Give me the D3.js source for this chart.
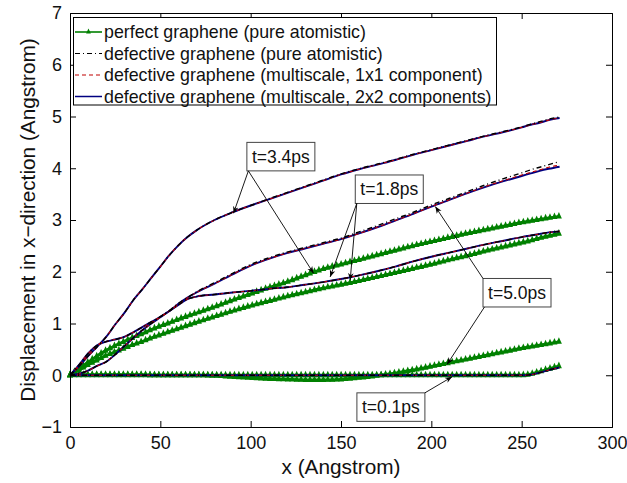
<!DOCTYPE html>
<html>
<head>
<meta charset="utf-8">
<script src="https://cdnjs.cloudflare.com/ajax/libs/d3/7.8.5/d3.min.js"></script>
<style>
  body { margin: 0; background: #fff; }
  svg { display: block; font-family: "Liberation Sans", Arial, Helvetica, sans-serif; }
</style>
</head>
<body>
<svg id="chart" width="627" height="483"></svg>
<script>
// sample positions along the sheet (Angstrom)
const xGrid = [0, 5, 10, 15, 20, 25, 30, 35, 40, 45, 50, 55, 60, 65, 70, 80, 90, 100, 110, 120,
  130, 140, 150, 160, 170, 180, 190, 200, 210, 220, 230, 240, 250, 255, 260, 265, 271];

// perfect graphene (pure atomistic)
const perfectT01 = [0, 0, 0, 0, 0, 0, 0, 0, 0, 0, 0, 0, 0, 0, 0, 0, 0, 0, 0, 0,
  0, 0, 0, 0, 0, 0, 0, 0, 0, 0, 0, 0, 0, 0.02, 0.07, 0.12, 0.18];
const perfectT18 = [0, 0.1, 0.2, 0.29, 0.38, 0.45, 0.52, 0.59, 0.65, 0.72, 0.78, 0.84, 0.9, 0.96, 1.02, 1.13, 1.24, 1.34, 1.43, 1.52,
  1.6, 1.68, 1.75, 1.82, 1.9, 1.98, 2.06, 2.14, 2.23, 2.31, 2.4, 2.48, 2.56, 2.6, 2.65, 2.69, 2.74];
const perfectT34 = [0, 0.13, 0.25, 0.37, 0.48, 0.57, 0.65, 0.73, 0.8, 0.88, 0.95, 1.01, 1.08, 1.14, 1.2, 1.32, 1.45, 1.57, 1.69, 1.8,
  1.93, 2.05, 2.14, 2.23, 2.32, 2.41, 2.5, 2.58, 2.66, 2.74, 2.81, 2.88, 2.95, 2.98, 3.01, 3.04, 3.07];
const perfectT50 = [0, 0.01, 0.01, 0.01, 0.01, 0.01, 0.01, 0.01, 0.01, 0, 0, 0, 0, 0, 0, -0.01, -0.03, -0.05, -0.07, -0.08,
  -0.09, -0.09, -0.08, -0.05, -0.01, 0.04, 0.1, 0.17, 0.24, 0.31, 0.38, 0.45, 0.52, 0.55, 0.58, 0.61, 0.65];

// defective graphene, multiscale 2x2 components
const multi2T01 = [0, 0, 0, 0, 0, 0, 0, 0, 0, 0, 0, 0, 0, 0, 0, 0, 0, 0, 0, 0,
  0, 0, 0, 0, 0, 0, 0, 0, 0, 0, 0, 0, 0, 0.01, 0.05, 0.1, 0.15];
const multi2T18 = [0, 0.2, 0.42, 0.58, 0.65, 0.69, 0.74, 0.83, 0.93, 1.03, 1.13, 1.24, 1.36, 1.47, 1.52, 1.56, 1.6, 1.63, 1.67, 1.7,
  1.75, 1.8, 1.86, 1.93, 2.01, 2.1, 2.2, 2.29, 2.37, 2.45, 2.53, 2.6, 2.67, 2.7, 2.73, 2.76, 2.78];
const multi2T34 = [0, 0.17, 0.37, 0.55, 0.74, 0.98, 1.2, 1.45, 1.66, 1.88, 2.1, 2.32, 2.51, 2.67, 2.8, 3.0, 3.15, 3.28, 3.4, 3.52,
  3.64, 3.76, 3.88, 3.98, 4.07, 4.16, 4.26, 4.35, 4.44, 4.53, 4.62, 4.7, 4.79, 4.84, 4.88, 4.93, 4.97];
const multi2T50 = [0, 0.03, 0.09, 0.18, 0.26, 0.4, 0.56, 0.72, 0.87, 1.0, 1.12, 1.24, 1.38, 1.5, 1.6, 1.77, 1.95, 2.12, 2.25, 2.36,
  2.45, 2.54, 2.63, 2.74, 2.86, 2.99, 3.12, 3.26, 3.39, 3.52, 3.64, 3.75, 3.85, 3.9, 3.95, 3.99, 4.03];

// where the other defective models separate from the 2x2 run
const multi1T50 = [0, 0.03, 0.09, 0.18, 0.26, 0.4, 0.56, 0.72, 0.87, 1.0, 1.12, 1.24, 1.38, 1.5, 1.6, 1.77, 1.95, 2.12, 2.25, 2.36,
  2.45, 2.54, 2.63, 2.74, 2.86, 2.99, 3.12, 3.26, 3.39, 3.52, 3.65, 3.76, 3.87, 3.92, 3.97, 4.02, 4.06];
const atomT50 = [0, 0.03, 0.09, 0.18, 0.26, 0.4, 0.56, 0.72, 0.87, 1.0, 1.13, 1.25, 1.39, 1.5, 1.61, 1.79, 1.97, 2.14, 2.27, 2.38,
  2.47, 2.56, 2.65, 2.77, 2.89, 3.02, 3.15, 3.29, 3.42, 3.55, 3.68, 3.8, 3.91, 3.97, 4.02, 4.07, 4.13];
const atomT34 = [0, 0.17, 0.37, 0.55, 0.74, 0.98, 1.2, 1.45, 1.66, 1.88, 2.1, 2.32, 2.51, 2.67, 2.8, 3.0, 3.15, 3.28, 3.41, 3.53,
  3.65, 3.77, 3.89, 3.99, 4.08, 4.17, 4.27, 4.36, 4.45, 4.54, 4.63, 4.71, 4.8, 4.85, 4.9, 4.95, 4.99];

const legendLabels = [
  'perfect graphene (pure atomistic)',
  'defective graphene (pure atomistic)',
  'defective graphene (multiscale, 1x1 component)',
  'defective graphene (multiscale, 2x2 components)',
];
const xTicks = [0, 50, 100, 150, 200, 250, 300];
const yTicks = [-1, 0, 1, 2, 3, 4, 5, 6, 7];

// annotation boxes: label, box top-left (data), arrow start corner, arrow tips (data)
const notes = [
  { label: 't=3.4ps', at: [97.9, 4.5], from: 'bl', tips: [[90.5, 3.13], [134.8, 1.97]] },
  { label: 't=1.8ps', at: [157.9, 3.87], from: 'bl', tips: [[144, 1.9], [155.1, 1.84]] },
  { label: 't=5.0ps', at: [228.6, 1.87], from: 'tl', tips: [[202.2, 3.26]] },
  { label: 't=5.0ps', at: [228.6, 1.87], from: 'bl', tips: [[208.7, 0.21]], noBox: true },
  { label: 't=0.1ps', at: [158.8, -0.34], from: 'tr', tips: [[211.5, -0.03]] },
];

const margin = { top: 13, right: 15, bottom: 56, left: 70 };
const width = 627;
const height = 483;
const green = '#008000';
const navy = '#000080';
const red = '#c00000';

const svg = d3.select('#chart');

const x = d3.scaleLinear().domain([0, 300]).range([margin.left, width - margin.right]);
const y = d3.scaleLinear().domain([-1, 7]).range([height - margin.bottom, margin.top]);

svg.append('defs').append('marker')
  .attr('id', 'head')
  .attr('viewBox', '0 0 10 10')
  .attr('refX', 10).attr('refY', 5)
  .attr('markerWidth', 7).attr('markerHeight', 7)
  .attr('markerUnits', 'userSpaceOnUse')
  .attr('orient', 'auto')
  .append('path')
  .attr('d', 'M0,1 L10,5 L0,9 L3,5 Z')
  .attr('fill', '#000');

const line = d3.line()
  .x((d) => x(d[0]))
  .y((d) => y(d[1]))
  .curve(d3.curveMonotoneX);

const pairs = (ys) => xGrid.map((xv, i) => [xv, ys[i]]);

const plot = svg.append('g');

// triangle marker, apex up
const tri = 'M0,-4.6 L3,2 L-3,2 Z';

function pointAtX(node, px) {
  let lo = 0;
  let hi = node.getTotalLength();
  for (let i = 0; i < 28; i += 1) {
    const mid = (lo + hi) / 2;
    if (node.getPointAtLength(mid).x < px) lo = mid; else hi = mid;
  }
  return node.getPointAtLength(hi);
}

[perfectT50, perfectT01, perfectT18, perfectT34].forEach((ys) => {
  const path = plot.append('path')
    .datum(pairs(ys))
    .attr('fill', 'none')
    .attr('stroke', green)
    .attr('stroke-width', 3)
    .attr('d', line);
  const node = path.node();
  // one marker per atom column (~2.46 A apart)
  const marks = d3.range(0, 271.01, 2.46).map((xv) => pointAtX(node, x(xv)));
  plot.append('g').selectAll('path')
    .data(marks)
    .join('path')
    .attr('d', tri)
    .attr('transform', (p) => `translate(${p.x},${p.y})`)
    .attr('fill', green);
});

// defective graphene runs
const runs = [
  { ys: multi2T01, color: navy, dash: null, w: 1.9 },
  { ys: multi2T18, color: navy, dash: null, w: 1.9 },
  { ys: multi2T34, color: navy, dash: null, w: 1.9 },
  { ys: multi2T50, color: navy, dash: null, w: 1.9 },
  { ys: multi2T01, color: red, dash: '4,3', w: 1.1 },
  { ys: multi2T18, color: red, dash: '4,3', w: 1.1 },
  { ys: multi2T34, color: red, dash: '4,3', w: 1.1 },
  { ys: multi1T50, color: red, dash: '4,3', w: 1.1 },
  { ys: multi2T01, color: '#000', dash: '5,3,1,3', w: 1.4 },
  { ys: multi2T18, color: '#000', dash: '5,3,1,3', w: 1.4 },
  { ys: atomT34, color: '#000', dash: '5,3,1,3', w: 1.4 },
  { ys: atomT50, color: '#000', dash: '5,3,1,3', w: 1.4 },
];
runs.forEach((r) => {
  plot.append('path')
    .datum(pairs(r.ys))
    .attr('fill', 'none')
    .attr('stroke', r.color)
    .attr('stroke-width', r.w)
    .attr('stroke-dasharray', r.dash)
    .attr('d', line);
});

// axes, MATLAB style box with inward ticks
const tickLen = 6;
const fmt = (d) => (d < 0 ? `\u2212${Math.abs(d)}` : `${d}`);

const axB = svg.append('g')
  .attr('transform', `translate(0,${y(-1)})`)
  .call(d3.axisBottom(x).tickValues(xTicks).tickSize(-tickLen).tickPadding(9.5).tickFormat(fmt));
const axT = svg.append('g')
  .attr('transform', `translate(0,${y(7)})`)
  .call(d3.axisTop(x).tickValues(xTicks).tickSize(-tickLen).tickFormat(''));
const axL = svg.append('g')
  .attr('transform', `translate(${x(0)},0)`)
  .call(d3.axisLeft(y).tickValues(yTicks).tickSize(-tickLen).tickPadding(8).tickFormat(fmt));
const axR = svg.append('g')
  .attr('transform', `translate(${x(300)},0)`)
  .call(d3.axisRight(y).tickValues(yTicks).tickSize(-tickLen).tickFormat(''));

[axB, axT, axL, axR].forEach((g) => {
  g.select('.domain').attr('stroke', '#000').attr('stroke-width', 1);
  g.selectAll('.tick line').attr('stroke', '#000');
  g.selectAll('.tick text')
    .attr('fill', '#111')
    .style('font-size', '18px')
    .style('font-family', '"Liberation Sans", Arial, Helvetica, sans-serif');
});
axB.selectAll('.tick:first-of-type line, .tick:last-of-type line').remove();
axT.selectAll('.tick:first-of-type line, .tick:last-of-type line').remove();
axL.selectAll('.tick:first-of-type line, .tick:last-of-type line').remove();
axR.selectAll('.tick:first-of-type line, .tick:last-of-type line').remove();

svg.append('text')
  .attr('x', (x(0) + x(300)) / 2)
  .attr('y', 474)
  .attr('text-anchor', 'middle')
  .attr('fill', '#111')
  .style('font-size', '20.8px')
  .text('x (Angstrom)');

svg.append('text')
  .attr('transform', `translate(34.5,${(y(-1) + y(7)) / 2}) rotate(-90)`)
  .attr('text-anchor', 'middle')
  .attr('fill', '#111')
  .style('font-size', '20.8px')
  .text('Displacement in x\u2212direction (Angstrom)');

// annotations
const noteG = svg.append('g');
notes.forEach((n) => {
  const bx = x(n.at[0]);
  const by = y(n.at[1]);
  const bw = 68;
  const bh = 28.5;
  if (!n.noBox) {
    noteG.append('rect')
      .attr('x', bx).attr('y', by)
      .attr('width', bw).attr('height', bh)
      .attr('fill', '#fff')
      .attr('stroke', '#444')
      .attr('stroke-width', 1);
    noteG.append('text')
      .attr('x', bx + bw / 2)
      .attr('y', by + bh / 2 + 6.2)
      .attr('text-anchor', 'middle')
      .attr('fill', '#111')
      .style('font-size', '17.5px')
      .text(n.label);
  }
  const corner = {
    bl: [bx + 1.5, by + bh], tl: [bx, by], tr: [bx + bw, by],
  }[n.from];
  n.tips.forEach((t) => {
    noteG.append('line')
      .attr('x1', corner[0]).attr('y1', corner[1])
      .attr('x2', x(t[0])).attr('y2', y(t[1]))
      .attr('stroke', '#000')
      .attr('stroke-width', 0.9)
      .attr('marker-end', 'url(#head)');
  });
});

// legend
const leg = svg.append('g');
leg.append('rect')
  .attr('x', 73.5).attr('y', 17.5)
  .attr('width', 423).attr('height', 87.5)
  .attr('fill', '#fff')
  .attr('stroke', '#000')
  .attr('stroke-width', 1);
const rowY = [32, 53.5, 75, 96.5];
const legStyles = [
  { color: green, dash: null, w: 1.6 },
  { color: '#000', dash: '5,3,1,3', w: 1 },
  { color: red, dash: '4,3', w: 1.2 },
  { color: navy, dash: null, w: 1.5 },
];
legendLabels.forEach((lab, i) => {
  leg.append('line')
    .attr('x1', 75).attr('x2', 102)
    .attr('y1', rowY[i]).attr('y2', rowY[i])
    .attr('stroke', legStyles[i].color)
    .attr('stroke-width', legStyles[i].w)
    .attr('stroke-dasharray', legStyles[i].dash);
  if (i === 0) {
    leg.append('path')
      .attr('d', 'M0,-3.4 L2.4,1.4 L-2.4,1.4 Z')
      .attr('transform', `translate(88.5,${rowY[i]})`)
      .attr('fill', green);
  }
  leg.append('text')
    .attr('x', 104)
    .attr('y', rowY[i] + 6.3)
    .attr('fill', '#111')
    .style('font-size', '17.8px')
    .text(lab);
});
</script>
</body>
</html>
